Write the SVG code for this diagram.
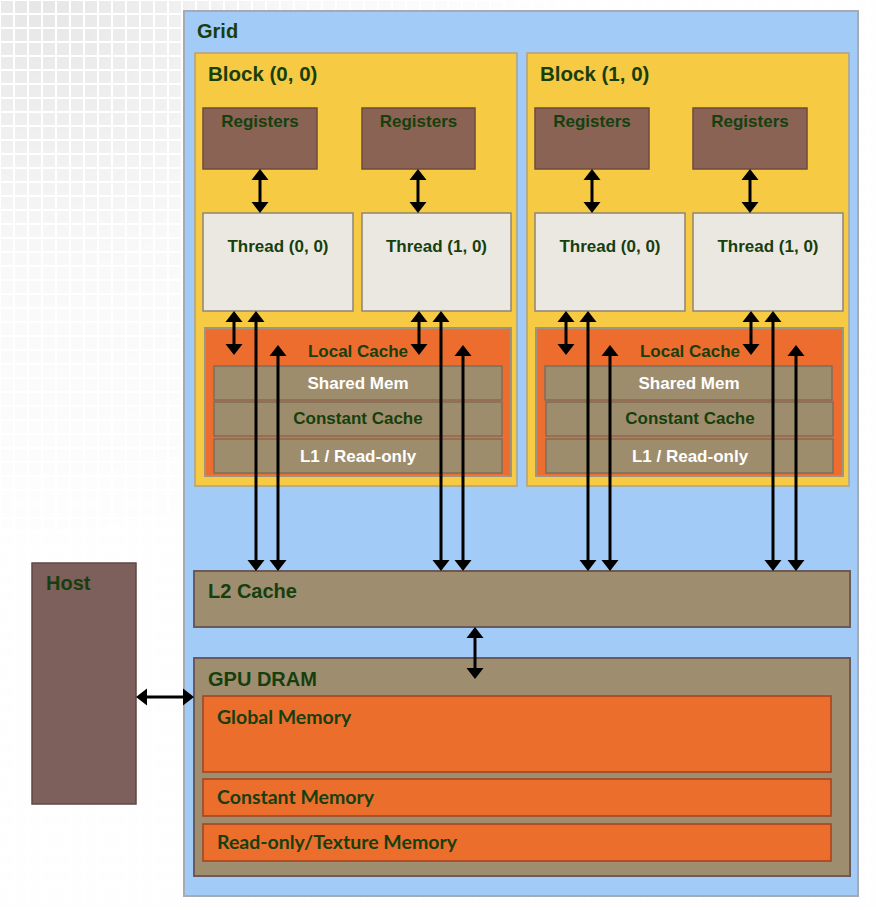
<svg xmlns="http://www.w3.org/2000/svg" width="876" height="910" viewBox="0 0 876 910">
<defs>
<style>
.t{font-family:"Liberation Sans",Arial,sans-serif;font-weight:bold;fill:#173f0e}
.w{fill:#ffffff}
.c{font-family:Lato,"Open Sans",sans-serif;font-weight:bold;fill:#173f0e;font-size:19.5px}
.grid{fill:#a3cbf7;stroke:#a4abb3;stroke-width:2}
.block{fill:#f6ca43;stroke:#b4ab93;stroke-width:2}
.reg{fill:#8b6354;stroke:#6d4b3e;stroke-width:1.5}
.thr{fill:#ebe8e2;stroke:#8f8574;stroke-width:1.5}
.lc{fill:#ec6d2d;stroke:#9e9482;stroke-width:2}
.sub{fill:#9e8d6d;stroke:#7c6e5c;stroke-width:1.5}
.l2{fill:#9e8d6e;stroke:#6b5a58;stroke-width:2}
.gm{fill:#ec6e2d;stroke:#a2401f;stroke-width:1.5}
.host{fill:#7d5f5c;stroke:#5f4744;stroke-width:1.5}
.ar{stroke:#000;stroke-width:3;fill:none;marker-start:url(#ah);marker-end:url(#ah)}
</style>
<marker id="ah" viewBox="0 -9 12 18" refX="6" refY="0" markerWidth="12" markerHeight="18" markerUnits="userSpaceOnUse" orient="auto-start-reverse">
<path d="M0,-8.5 L11,0 L0,8.5 Z" fill="#000"/>
</marker>
<pattern id="tex" width="14" height="14" patternUnits="userSpaceOnUse">
<rect x="1" y="1" width="12" height="12" fill="#d6d6d6"/>
</pattern>
<radialGradient id="fade" cx="0.05" cy="0" r="0.6">
<stop offset="0" stop-color="#fff" stop-opacity="0.6"/>
<stop offset="0.5" stop-color="#fff" stop-opacity="0.15"/>
<stop offset="1" stop-color="#fff" stop-opacity="0.03"/>
</radialGradient>
<mask id="m"><rect width="876" height="910" fill="url(#fade)"/></mask>
</defs>
<rect width="876" height="910" fill="#ffffff"/>
<rect width="876" height="910" fill="url(#tex)" mask="url(#m)"/>

<g id="grid">
<rect class="grid" x="184" y="11" width="674" height="885"/>
<text class="t" x="197" y="38" font-size="20">Grid</text>
</g>

<g id="block00">
<rect class="block" x="195" y="53" width="322" height="433"/>
<text class="t" x="208" y="81" font-size="20.5">Block (0, 0)</text>
</g>
<g id="block10">
<rect class="block" x="527" y="53" width="322" height="433"/>
<text class="t" x="540" y="81" font-size="20.5">Block (1, 0)</text>
</g>

<g id="reg00"><rect class="reg" x="203" y="108" width="114" height="61"/><text class="t" x="260" y="127" font-size="17" text-anchor="middle">Registers</text></g>
<g id="reg01"><rect class="reg" x="362" y="108" width="113" height="61"/><text class="t" x="418.5" y="127" font-size="17" text-anchor="middle">Registers</text></g>
<g id="reg10"><rect class="reg" x="535" y="108" width="114" height="61"/><text class="t" x="592" y="127" font-size="17" text-anchor="middle">Registers</text></g>
<g id="reg11"><rect class="reg" x="693" y="108" width="114" height="61"/><text class="t" x="750" y="127" font-size="17" text-anchor="middle">Registers</text></g>

<g id="thr00"><rect class="thr" x="203" y="213" width="150" height="98"/><text class="t" x="278" y="252" font-size="17" text-anchor="middle">Thread (0, 0)</text></g>
<g id="thr01"><rect class="thr" x="362" y="213" width="149" height="98"/><text class="t" x="436.5" y="252" font-size="17" text-anchor="middle">Thread (1, 0)</text></g>
<g id="thr10"><rect class="thr" x="535" y="213" width="150" height="98"/><text class="t" x="610" y="252" font-size="17" text-anchor="middle">Thread (0, 0)</text></g>
<g id="thr11"><rect class="thr" x="693" y="213" width="150" height="98"/><text class="t" x="768" y="252" font-size="17" text-anchor="middle">Thread (1, 0)</text></g>

<g id="local0">
<rect class="lc" x="205" y="328" width="306" height="148"/>
<text class="t" x="358" y="357" font-size="17" text-anchor="middle">Local Cache</text>
<rect class="sub" x="214" y="366" width="288" height="34"/>
<text class="t w" x="358" y="389" font-size="17" text-anchor="middle">Shared Mem</text>
<rect class="sub" x="214" y="402" width="288" height="34"/>
<text class="t" x="358" y="424" font-size="17" text-anchor="middle">Constant Cache</text>
<rect class="sub" x="214" y="439" width="288" height="34"/>
<text class="t w" x="358" y="462" font-size="17" text-anchor="middle">L1 / Read-only</text>
</g>
<g id="local1">
<rect class="lc" x="536" y="328" width="307" height="148"/>
<text class="t" x="690" y="357" font-size="17" text-anchor="middle">Local Cache</text>
<rect class="sub" x="545" y="366" width="287" height="34"/>
<text class="t w" x="689" y="389" font-size="17" text-anchor="middle">Shared Mem</text>
<rect class="sub" x="546" y="402" width="287" height="34"/>
<text class="t" x="690" y="424" font-size="17" text-anchor="middle">Constant Cache</text>
<rect class="sub" x="546" y="439" width="287" height="34"/>
<text class="t w" x="690" y="462" font-size="17" text-anchor="middle">L1 / Read-only</text>
</g>

<g id="l2">
<rect class="l2" x="194" y="571" width="656" height="56"/>
<text class="t" x="208" y="598" font-size="20">L2 Cache</text>
</g>

<g id="dram">
<rect class="l2" x="194" y="658" width="656" height="218"/>
<text class="t" x="208" y="686" font-size="20">GPU DRAM</text>
<rect class="gm" x="203" y="696" width="628" height="76"/>
<text class="c" x="217" y="724">Global Memory</text>
<rect class="gm" x="203" y="779" width="628" height="37"/>
<text class="c" x="217" y="804">Constant Memory</text>
<rect class="gm" x="203" y="824" width="628" height="37"/>
<text class="c" x="217" y="849">Read-only/Texture Memory</text>
</g>

<g id="host">
<rect class="host" x="32" y="563" width="104" height="241"/>
<text class="t" x="46" y="590" font-size="20">Host</text>
</g>

<g id="connectors">
<line class="ar" x1="260" y1="174" x2="260" y2="208"/>
<line class="ar" x1="418" y1="174" x2="418" y2="208"/>
<line class="ar" x1="592" y1="174" x2="592" y2="208"/>
<line class="ar" x1="750" y1="174" x2="750" y2="208"/>

<line class="ar" x1="234" y1="316" x2="234" y2="350"/>
<line class="ar" x1="419" y1="316" x2="419" y2="350"/>
<line class="ar" x1="566" y1="316" x2="566" y2="350"/>
<line class="ar" x1="751" y1="316" x2="751" y2="350"/>

<line class="ar" x1="256" y1="316" x2="256" y2="566"/>
<line class="ar" x1="441" y1="316" x2="441" y2="566"/>
<line class="ar" x1="588" y1="316" x2="588" y2="566"/>
<line class="ar" x1="773" y1="316" x2="773" y2="566"/>

<line class="ar" x1="278" y1="350" x2="278" y2="566"/>
<line class="ar" x1="463" y1="350" x2="463" y2="566"/>
<line class="ar" x1="610" y1="350" x2="610" y2="566"/>
<line class="ar" x1="796" y1="350" x2="796" y2="566"/>

<line class="ar" x1="475" y1="632" x2="475" y2="674"/>
<line class="ar" x1="141" y1="697" x2="189" y2="697"/>
</g>
</svg>
